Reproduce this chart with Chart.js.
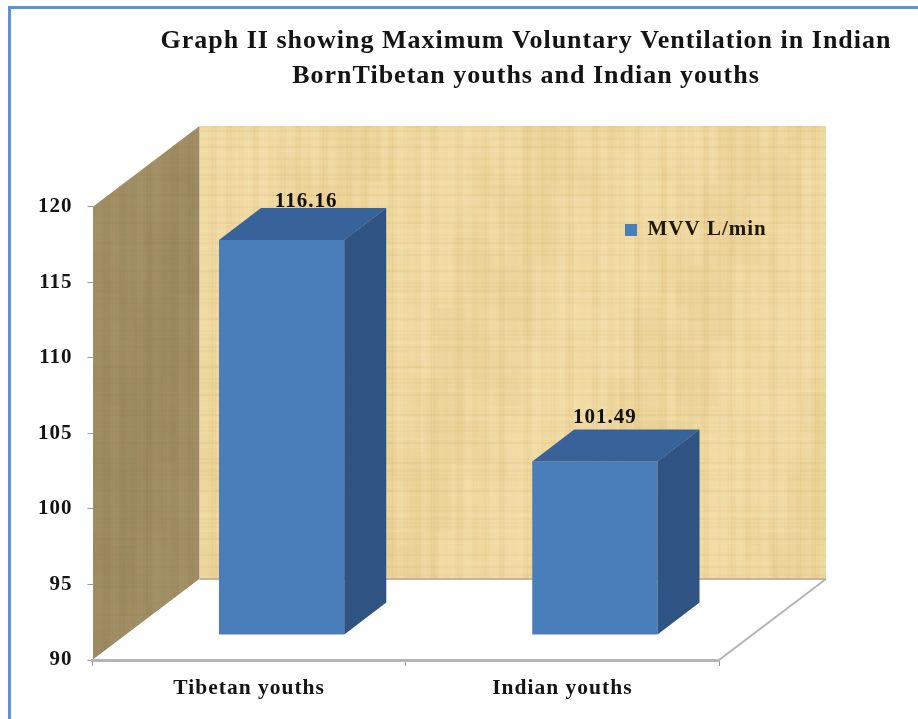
<!DOCTYPE html>
<html><head><meta charset="utf-8">
<style>
html,body{margin:0;padding:0;background:#fff;width:918px;height:719px;overflow:hidden}
#frame{position:absolute;left:8px;top:6px;width:910px;height:713px;border-left:3px solid #5B93DC;border-top:3px solid #5B93DC;box-sizing:border-box}
#wrap{position:absolute;left:0;top:0;width:918px;height:719px}
canvas{filter:blur(0.6px)}
</style>
<script src="https://cdn.jsdelivr.net/npm/chart.js@4"></script>
</head><body>
<div id="frame"></div>
<div id="wrap"><canvas id="c" width="918" height="719"></canvas></div>
<script>
const categories = ['Tibetan youths', 'Indian youths'];
const seriesName = 'MVV L/min';
const mvvValues = [116.16, 101.49];
const axisFloor = 90;
const titleLines = ['Graph II showing Maximum Voluntary Ventilation in Indian', 'BornTibetan youths and Indian youths'];

const WALL = {dx: 107, dy: -81};   // full depth of the 3D box
const BAR_SHIFT = {dx: 32.5, dy: -25}; // front face of bars sits inside the box
const BAR_DEPTH = {dx: 42, dy: -32};
const LABEL_SHIFT = [{dx: 24.5, dy: -38}, {dx: 10, dy: -44}];
const SERIF = "'Liberation Serif','Times New Roman',serif";
const SPACING = '1px';

function fibreTexture(w, h, base, dark, light, hStrength) {
  const off = document.createElement('canvas');
  off.width = w; off.height = h;
  const g = off.getContext('2d');
  g.fillStyle = base; g.fillRect(0, 0, w, h);
  for (let x = 0; x < w; x += 3) {
    const a = Math.sin(x * 0.37) * Math.cos(x * 0.091 + 1.3);
    g.fillStyle = a > 0 ? dark : light;
    g.globalAlpha = 0.03 + 0.16 * Math.abs(a);
    g.fillRect(x, 0, 2, h);
  }
  for (let y = 0; y < h; y += 4) {
    const a = Math.sin(y * 0.53 + 0.4) * Math.cos(y * 0.13);
    g.fillStyle = a > 0 ? dark : light;
    g.globalAlpha = (0.03 + 0.12 * Math.abs(a)) * hStrength;
    g.fillRect(0, y, w, 2);
  }
  // slow mottling
  for (let y = 0; y < h; y += 14) {
    for (let x = 0; x < w; x += 14) {
      const a = Math.sin(x * 0.031 + y * 0.012) + Math.sin(x * 0.083 - y * 0.027 + 2) * Math.cos(y * 0.041 + x * 0.017);
      g.fillStyle = a > 0 ? light : dark;
      g.globalAlpha = 0.09 * Math.min(1, Math.abs(a));
      g.fillRect(x, y, 14, 14);
    }
  }
  g.globalAlpha = 1;
  return off;
}

function poly(ctx, pts, fill) {
  ctx.beginPath();
  pts.forEach((p, i) => i ? ctx.lineTo(p[0], p[1]) : ctx.moveTo(p[0], p[1]));
  ctx.closePath();
  if (fill) { ctx.fillStyle = fill; ctx.fill(); }
}

const box3d = {
  id: 'box3d',
  beforeLayout(chart) { chart.ctx.letterSpacing = SPACING; },
  afterLayout(chart) {
    chart.titleBlock.left = 134; chart.titleBlock.right = 918;
    const lg = chart.legend;
    const w = lg.width, h = lg.height;
    lg.left = 621; lg.right = 621 + w; lg.width = w;
    lg.top = 230 - h / 2; lg.bottom = lg.top + h;
  },
  beforeDraw(chart) {
    const {ctx, chartArea: a} = chart;
    ctx.letterSpacing = SPACING;
    const l = a.left, r = a.right, t = a.top, b = a.bottom;
    const d = WALL;
    const bw = r - l, bh = b - t;
    ctx.drawImage(fibreTexture(bw, bh, '#F0D9A0', '#C9A55C', '#FBF0CB', 1), l + d.dx, t + d.dy);
    ctx.save();
    poly(ctx, [[l, t], [l + d.dx, t + d.dy], [l + d.dx, b + d.dy], [l, b]]);
    ctx.clip();
    ctx.drawImage(fibreTexture(d.dx + 1, bh - d.dy, '#A08D63', '#7E6C45', '#B5A27A', 0.3), l, t + d.dy);
    ctx.restore();
    poly(ctx, [[l, b], [l + d.dx, b + d.dy], [r + d.dx, b + d.dy], [r, b]], '#FFFFFF');
    ctx.strokeStyle = '#C4B69A'; ctx.lineWidth = 2;
    ctx.beginPath(); ctx.moveTo(l + d.dx, b + d.dy); ctx.lineTo(r + d.dx, b + d.dy); ctx.stroke();
    ctx.strokeStyle = '#B4B4B4';
    ctx.beginPath(); ctx.moveTo(r, b); ctx.lineTo(r + d.dx, b + d.dy); ctx.stroke();
  },
  beforeDatasetsDraw(chart) {
    chart.ctx.save();
    chart.ctx.translate(BAR_SHIFT.dx, BAR_SHIFT.dy);
  },
  afterDatasetsDraw(chart) {
    const ctx = chart.ctx;
    ctx.restore();
    const meta = chart.getDatasetMeta(0);
    ctx.font = "bold 21px " + SERIF;
    ctx.textAlign = 'center'; ctx.textBaseline = 'middle';
    meta.data.forEach((bar, i) => {
      const cx = bar.x + BAR_SHIFT.dx, top = bar.y + BAR_SHIFT.dy, base = bar.base + BAR_SHIFT.dy;
      const half = bar.width / 2, L = cx - half, R = cx + half, q = BAR_DEPTH;
      ctx.fillStyle = '#111008';
      ctx.fillText(mvvValues[i].toFixed(2), cx + LABEL_SHIFT[i].dx, top + LABEL_SHIFT[i].dy);
      poly(ctx, [[L, top], [R, top], [R + q.dx, top + q.dy], [L + q.dx, top + q.dy]], '#37639A');
      poly(ctx, [[R, top], [R + q.dx, top + q.dy], [R + q.dx, base + q.dy], [R, base]], '#2F5382');
    });
  }
};

new Chart(document.getElementById('c'), {
  type: 'bar',
  data: {
    labels: categories,
    datasets: [{
      label: seriesName,
      data: mvvValues,
      base: axisFloor,
      backgroundColor: '#4A7EBB',
      borderWidth: 0,
      barPercentage: 0.4,
      categoryPercentage: 1,
      clip: false
    }]
  },
  plugins: [box3d],
  options: {
    responsive: false,
    animation: false,
    events: [],
    layout: {padding: {left: 0, right: 199, top: 0, bottom: 0}},
    plugins: {
      tooltip: {enabled: false},
      title: {
        display: true,
        text: titleLines,
        color: '#141414',
        font: {family: SERIF, size: 26, weight: 'bold', lineHeight: 1.346},
        padding: {top: 24, bottom: 113}
      },
      legend: {
        display: true,
        position: 'chartArea',
        labels: {
          color: '#1f170a',
          boxWidth: 12, boxHeight: 12, padding: 4,
          font: {family: SERIF, size: 21, weight: 'bold'}
        }
      }
    },
    scales: {
      x: {
        afterFit(s) { s.height = 59; },
        border: {color: '#B4B4B4', width: 3},
        grid: {display: true, drawOnChartArea: false, drawTicks: true, tickLength: 6, color: '#9a9a9a'},
        ticks: {color: '#141414', padding: 10, font: {family: SERIF, size: 21.5, weight: 'bold'}, maxRotation: 0}
      },
      y: {
        min: axisFloor, max: 120,
        afterFit(s) { s.width = 92.5; },
        border: {display: false},
        grid: {display: true, drawOnChartArea: false, drawTicks: true, tickLength: 5, color: '#9a9a9a'},
        ticks: {stepSize: 5, color: '#141414', padding: 15, font: {family: SERIF, size: 21, weight: 'bold'}}
      }
    }
  }
});
</script>
</body></html>
